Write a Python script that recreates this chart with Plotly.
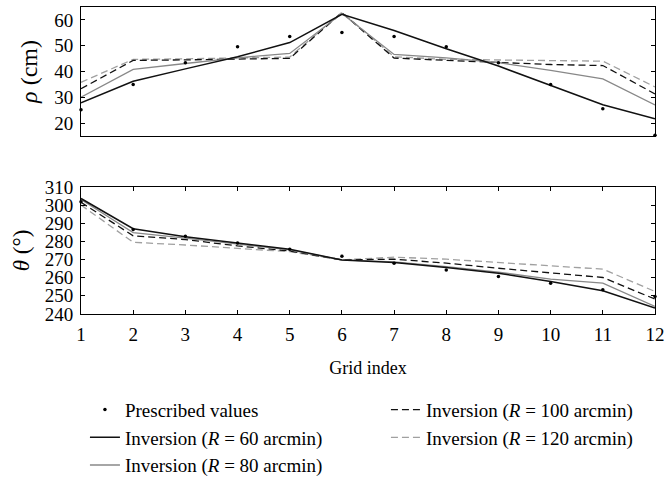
import plotly.graph_objects as go

grid = list(range(1, 13))

rho_prescribed = [25.2, 34.9, 43.4, 49.6, 53.6, 55.1, 53.6, 49.6, 43.4, 34.9, 25.5, 15.3]
rho_r60 = [27.8, 36.2, 41.0, 45.7, 51.2, 62.2, 55.9, 48.8, 42.1, 34.5, 27.1, 21.7]
rho_r80 = [30.0, 40.8, 43.1, 45.3, 47.0, 62.5, 46.6, 45.3, 43.4, 40.4, 37.1, 27.0]
rho_r100 = [33.3, 44.3, 44.5, 44.7, 45.1, 62.8, 45.2, 44.3, 43.4, 42.7, 42.3, 31.3]
rho_r120 = [35.8, 44.7, 44.9, 45.3, 45.6, 63.0, 45.7, 44.7, 44.5, 44.3, 44.0, 34.0]

theta_prescribed = [301.8, 286.6, 282.8, 279.1, 275.6, 271.8, 268.0, 264.3, 260.6, 257.0, 253.3, 249.7]
theta_r60 = [303.6, 287.0, 282.6, 279.0, 275.6, 269.8, 268.3, 265.6, 262.5, 257.9, 252.8, 243.3]
theta_r80 = [303.1, 284.8, 281.8, 278.6, 275.3, 269.8, 268.7, 266.1, 263.0, 259.2, 257.0, 244.2]
theta_r100 = [301.5, 283.1, 281.0, 277.5, 274.7, 269.8, 270.2, 268.0, 265.2, 262.5, 260.1, 248.2]
theta_r120 = [300.0, 279.5, 278.0, 276.2, 274.3, 269.8, 271.3, 270.2, 268.3, 266.5, 264.7, 252.4]

rho_ticks = [20, 30, 40, 50, 60]
theta_ticks = [240, 250, 260, 270, 280, 290, 300, 310]

names = {
    "pres": "Prescribed values",
    "r60": "Inversion (<i>R</i> = 60 arcmin)",
    "r80": "Inversion (<i>R</i> = 80 arcmin)",
    "r100": "Inversion (<i>R</i> = 100 arcmin)",
    "r120": "Inversion (<i>R</i> = 120 arcmin)",
}

styles = {
    "r60": dict(color="#111111", width=1.5),
    "r80": dict(color="#888888", width=1.3),
    "r100": dict(color="#111111", width=1.3, dash="7px,4px"),
    "r120": dict(color="#a0a0a0", width=1.3, dash="7px,4px"),
}

FONT = "Liberation Serif"
fig = go.Figure()

order = ["pres", "r100", "r60", "r120", "r80"]
rho_data = {"r60": rho_r60, "r80": rho_r80, "r100": rho_r100, "r120": rho_r120}
theta_data = {"r60": theta_r60, "r80": theta_r80, "r100": theta_r100, "r120": theta_r120}

for key in ["r120", "r100", "r80", "r60"]:
    fig.add_trace(go.Scatter(x=grid, y=rho_data[key], mode="lines", line=styles[key],
                             name=names[key], legendgroup=key, showlegend=False,
                             xaxis="x", yaxis="y"))
    fig.add_trace(go.Scatter(x=grid, y=theta_data[key], mode="lines", line=styles[key],
                             name=names[key], legendgroup=key, showlegend=False,
                             xaxis="x2", yaxis="y2"))
fig.add_trace(go.Scatter(x=grid, y=rho_prescribed, mode="markers",
                         marker=dict(color="black", size=3.5), name=names["pres"],
                         showlegend=False, xaxis="x", yaxis="y", cliponaxis=False))
fig.add_trace(go.Scatter(x=grid, y=theta_prescribed, mode="markers",
                         marker=dict(color="black", size=3.5), name=names["pres"],
                         showlegend=False, xaxis="x2", yaxis="y2", cliponaxis=False))

for key in order:
    if key == "pres":
        fig.add_trace(go.Scatter(x=[None], y=[None], mode="markers",
                                 marker=dict(color="black", size=3.5), name=names[key],
                                 xaxis="x", yaxis="y"))
    else:
        fig.add_trace(go.Scatter(x=[None], y=[None], mode="lines", line=styles[key],
                                 name=names[key], xaxis="x", yaxis="y"))

axis_common = dict(showline=True, linecolor="black", linewidth=1, mirror="ticks",
                   ticks="inside", ticklen=4, tickcolor="black", showgrid=False,
                   zeroline=False, ticklabelstandoff=3,
                   tickfont=dict(family=FONT, size=19, color="black"))

fig.update_layout(
    width=665, height=478,
    paper_bgcolor="white", plot_bgcolor="white",
    margin=dict(l=81, r=10, t=7, b=164, autoexpand=False),
    font=dict(family=FONT, size=19, color="black"),
    xaxis=dict(domain=[0, 1], range=[1, 12], anchor="y", showticklabels=False,
               showline=True, linecolor="black", linewidth=1, mirror=True,
               ticks="", showgrid=False, zeroline=False),
    yaxis=dict(domain=[0.58, 1], range=[15, 65], tickvals=rho_ticks,
               title=dict(text="<i>ρ</i> (cm)", font=dict(family=FONT, size=24), standoff=9),
               **axis_common),
    xaxis2=dict(domain=[0, 1], range=[1, 12], anchor="y2", tickvals=grid,
                title=dict(text="Grid index", font=dict(family=FONT, size=18), standoff=17),
                **axis_common),
    yaxis2=dict(domain=[0, 0.414], range=[240, 310], anchor="x2", tickvals=theta_ticks,
                title=dict(text="<i>θ</i> (°)", font=dict(family=FONT, size=23), standoff=8),
                **axis_common),
    legend=dict(orientation="h", x=-0.0001, xanchor="left", y=-0.25, yanchor="top",
                entrywidth=252, entrywidthmode="pixels", traceorder="normal",
                indentation=4,
                font=dict(family=FONT, size=19, color="black"),
                bgcolor="rgba(0,0,0,0)", itemwidth=30),
    showlegend=True,
)

fig.write_html("out.html", config={"displayModeBar": False},
               post_script="document.body.style.margin='0';")
